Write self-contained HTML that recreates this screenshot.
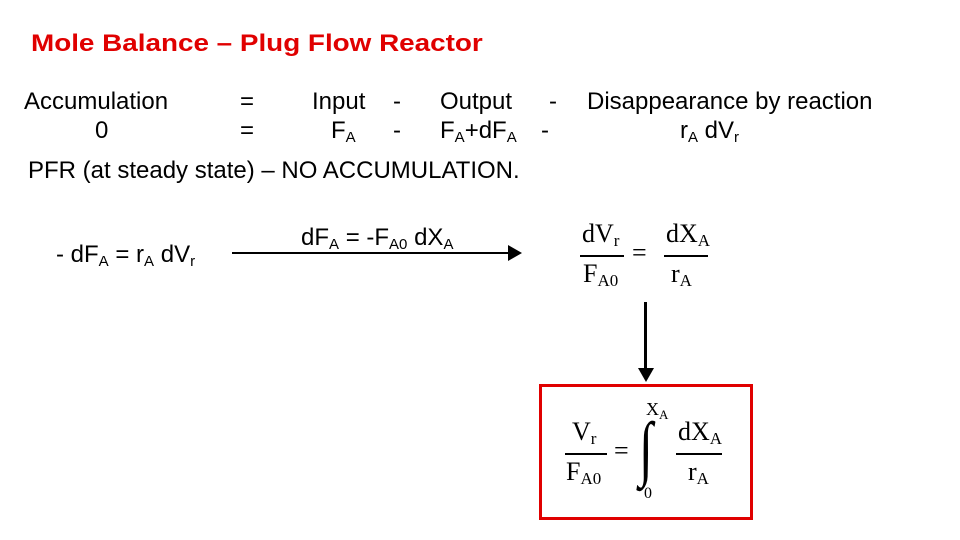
<!DOCTYPE html>
<html><head><style>
body{margin:0;width:960px;height:540px;background:#fff;position:relative;overflow:hidden;font-family:"Liberation Sans",sans-serif;color:#000}
.t{position:absolute;font-size:24px;white-space:nowrap;line-height:1;transform-origin:left top}
.s{font-family:"Liberation Serif",serif;position:absolute;font-size:26px;line-height:1;white-space:nowrap}
sub{font-size:15px;vertical-align:-4px;line-height:0}
.ss sub{font-size:17px}
.bar{position:absolute;height:2px;background:#000}
</style></head><body>
<div class="t" style="left:31px;top:32px;color:#e00000;font-weight:bold;font-size:24px;transform:scaleX(1.16)">Mole Balance – Plug Flow Reactor</div>
<div class="t" style="left:24px;top:90px">Accumulation</div>
<div class="t" style="left:95px;top:119px">0</div>
<div class="t" style="left:240px;top:90px">=</div>
<div class="t" style="left:240px;top:119px">=</div>
<div class="t" style="left:312px;top:90px">Input</div>
<div class="t" style="left:331px;top:119px">F<sub>A</sub></div>
<div class="t" style="left:393px;top:90px">-</div>
<div class="t" style="left:393px;top:119px">-</div>
<div class="t" style="left:440px;top:90px">Output</div>
<div class="t" style="left:440px;top:119px">F<sub>A</sub>+dF<sub>A</sub></div>
<div class="t" style="left:549px;top:90px">-</div>
<div class="t" style="left:541px;top:119px">-</div>
<div class="t" style="left:587px;top:90px">Disappearance by reaction</div>
<div class="t" style="left:680px;top:119px">r<sub>A</sub> dV<sub>r</sub></div>
<div class="t" style="left:28px;top:159px">PFR (at steady state) – NO ACCUMULATION.</div>
<div class="t" style="left:56px;top:243px">- dF<sub>A</sub> = r<sub>A</sub> dV<sub>r</sub></div>
<div class="t" style="left:301px;top:226px">dF<sub>A</sub> = -F<sub>A0</sub> dX<sub>A</sub></div>
<div class="bar" style="left:232px;top:252px;width:278px"></div>
<svg style="position:absolute;left:508px;top:245px" width="16" height="16"><polygon points="0,0 14,8 0,16" fill="#000"/></svg>
<!-- eq1 -->
<div class="s ss" style="left:582px;top:221px">dV<sub>r</sub></div>
<div class="bar" style="left:580px;top:255px;width:44px;height:1.5px"></div>
<div class="s ss" style="left:583px;top:261px">F<sub>A0</sub></div>
<div class="s" style="left:632px;top:240px">=</div>
<div class="s ss" style="left:666px;top:221px">dX<sub>A</sub></div>
<div class="bar" style="left:664px;top:255px;width:44px;height:1.5px"></div>
<div class="s ss" style="left:671px;top:261px">r<sub>A</sub></div>
<!-- arrow down -->
<div style="position:absolute;left:644px;top:302px;width:3px;height:68px;background:#000"></div>
<svg style="position:absolute;left:638px;top:368px" width="16" height="14"><polygon points="0,0 16,0 8,14" fill="#000"/></svg>
<!-- box -->
<div style="position:absolute;left:539px;top:384px;width:208px;height:130px;border:3px solid #e00000"></div>
<div class="s ss" style="left:572px;top:419px">V<sub>r</sub></div>
<div class="bar" style="left:565px;top:453px;width:42px;height:1.5px"></div>
<div class="s ss" style="left:566px;top:459px">F<sub>A0</sub></div>
<div class="s" style="left:614px;top:438px">=</div>
<div class="s" style="left:646px;top:400px;font-size:18px">X<sub style="font-size:13px">A</sub></div>
<div class="s" style="left:636px;top:412px;font-size:72px;transform:scaleX(0.7)">∫</div>
<div class="s" style="left:644px;top:486px;font-size:16px">0</div>
<div class="s ss" style="left:678px;top:419px">dX<sub>A</sub></div>
<div class="bar" style="left:676px;top:453px;width:46px;height:1.5px"></div>
<div class="s ss" style="left:688px;top:459px">r<sub>A</sub></div>
</body></html>
